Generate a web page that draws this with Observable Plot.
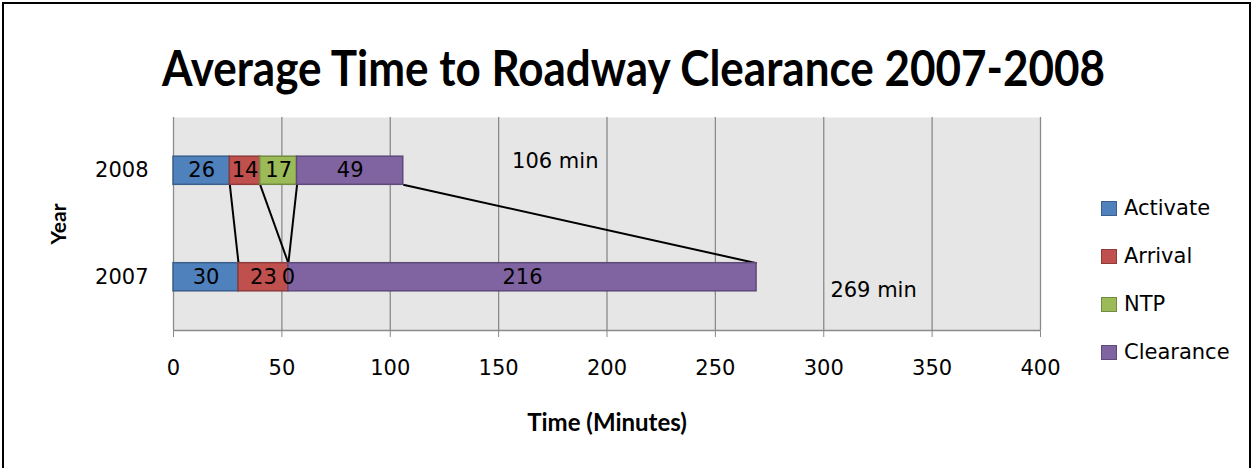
<!DOCTYPE html>
<html>
<head>
<meta charset="utf-8">
<script src="https://cdn.jsdelivr.net/npm/d3@7"></script>
<script src="https://cdn.jsdelivr.net/npm/@observablehq/plot@0.6"></script>
<style>
  html, body { margin: 0; padding: 0; background: #fff; }
  #wrap { position: relative; width: 1256px; height: 468px; overflow: hidden; font-family: "DejaVu Sans", sans-serif; }
  #border { position: absolute; left: 2px; top: 2px; width: 1249px; height: 490px; border: 2px solid #000; box-sizing: border-box; }
  #title { position: absolute; left: 0; width: 1267px; top: 42px; text-align: center; font-family: Lato, sans-serif; font-weight: bold; font-size: 50px; line-height: 1; color: #000; transform: scaleX(0.88); transform-origin: 633.5px 0; white-space: nowrap; }
  #chart { position: absolute; left: 0; top: 0; }
  #legend { position: absolute; left: 1101px; top: 197px; }
  .item { position: absolute; left: 0; height: 24px; white-space: nowrap; font-size: 21px; color: #000; }
  .sw { position: absolute; left: 0; top: 4px; width: 16px; height: 15px; box-sizing: border-box; border: 1px solid; }
  .lb { position: absolute; left: 23px; top: 0; line-height: 22px; }
  #chart svg [aria-label="x-axis label"], #chart svg [aria-label="y-axis label"] { font-family: Lato, sans-serif; font-weight: bold; }
  #chart svg [aria-label="x-axis label"] { font-size: 24px; }
  #chart svg [aria-label="y-axis label"] { font-size: 21px; }
  #chart svg [aria-label="x-axis tick"] { stroke: #8a8a8a; }
</style>
</head>
<body>
<div id="wrap">
  <div id="border"></div>
  <div id="title"></div>
  <div id="chart"></div>
  <div id="legend"></div>
</div>
<script>
const chartTitle = "Average Time to Roadway Clearance 2007-2008";
const years = ["2008", "2007"];
const stages = ["Activate", "Arrival", "NTP", "Clearance"];
const minutes2008 = [26, 14, 17, 49];
const minutes2007 = [30, 23, 0, 216];
const totalLabels = ["106 min", "269 min"];
const xTicks = [0, 50, 100, 150, 200, 250, 300, 350, 400];
const fills = ["#4F81BD", "#C0504D", "#9BBB59", "#8064A2"];
const strokes = ["#3A5F8B", "#8E3B39", "#728A41", "#5E4A78"];

document.getElementById("title").textContent = chartTitle;

// y positions (linear scale, two category slots)
const yPos = {"2008": 1.5, "2007": 0.5};
const half = 0.132;
const series = {"2008": minutes2008, "2007": minutes2007};

const rows = [];
const ends = {};
for (const yr of years) {
  let acc = 0;
  ends[yr] = [];
  series[yr].forEach((v, i) => {
    rows.push({year: yr, stage: stages[i], value: v, x1: acc, x2: acc + v, pos: yPos[yr]});
    acc += v;
    ends[yr].push(acc);
  });
}
const links = stages.map((s, i) => ({a: ends["2008"][i], b: ends["2007"][i]}));
const totals = years.map((yr, i) => ({year: yr, total: ends[yr][ends[yr].length - 1], label: totalLabels[i], pos: yPos[yr]}));

const W = 1256, H = 468;
const plot = Plot.plot({
  width: W,
  height: H,
  marginLeft: 173,
  marginRight: W - 1040,
  marginTop: 117,
  marginBottom: H - 330,
  style: {fontFamily: "'DejaVu Sans', sans-serif", fontSize: "21px", color: "#000", background: "transparent", overflow: "visible"},
  x: {domain: [0, 400], ticks: xTicks, tickSize: 7, tickPadding: 23, label: "Time (Minutes)", labelAnchor: "center", labelOffset: 100, labelArrow: "none"},
  y: {domain: [0, 2], ticks: [0.5, 1.5], tickFormat: d => d === 1.5 ? "2008" : "2007", tickSize: 0, tickPadding: 25, label: "Year", labelAnchor: "center", labelOffset: 122, labelArrow: "none"},
  color: {domain: stages, range: fills},
  marks: [
    Plot.frame({fill: "#e6e6e6", stroke: null}),
    Plot.ruleX(xTicks, {stroke: "#8a8a8a", strokeWidth: 1.3}),
    Plot.ruleY([0], {stroke: "#8a8a8a", strokeWidth: 1.3}),
    Plot.link(links, {x1: "a", y1: yPos["2008"] - half, x2: "b", y2: yPos["2007"] + half, stroke: "#000", strokeWidth: 2}),
    Plot.rect(rows, {x1: "x1", x2: "x2", y1: d => d.pos - half, y2: d => d.pos + half, fill: "stage", stroke: d => strokes[stages.indexOf(d.stage)], strokeWidth: 1.5}),
    Plot.text(rows, {x: d => (d.x1 + d.x2) / 2, y: "pos", text: d => String(d.value), fill: "#000", fontSize: 21}),
    Plot.text(totals.filter(d => d.year === "2008"), {x: "total", y: "pos", text: "label", dx: 152, dy: -9, fill: "#000", fontSize: 21}),
    Plot.text(totals.filter(d => d.year === "2007"), {x: "total", y: "pos", text: "label", dx: 117, dy: 13, fill: "#000", fontSize: 21})
  ]
});
document.getElementById("chart").appendChild(plot);

const legend = document.getElementById("legend");
stages.forEach((s, i) => {
  const it = document.createElement("div");
  it.className = "item";
  it.style.top = (i * 48) + "px";
  const sw = document.createElement("div");
  sw.className = "sw";
  sw.style.background = fills[i];
  sw.style.borderColor = strokes[i];
  const lb = document.createElement("div");
  lb.className = "lb";
  lb.textContent = s;
  it.appendChild(sw); it.appendChild(lb);
  legend.appendChild(it);
});
</script>
</body>
</html>
